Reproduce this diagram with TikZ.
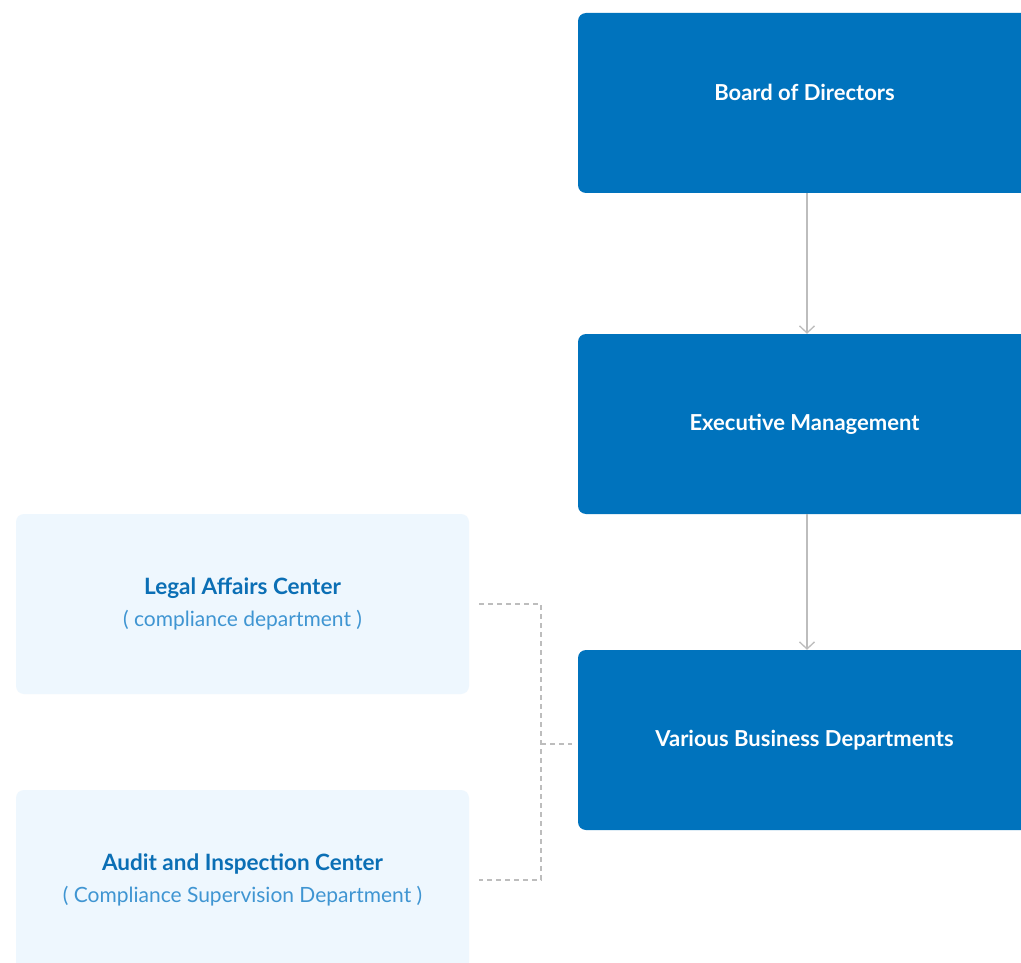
\documentclass[tikz,border=0pt]{standalone}
\usepackage{fontspec}
\setmainfont{Lato}
\usetikzlibrary{arrows.meta}
\definecolor{mainblue}{HTML}{0073BD}
\definecolor{paleblue}{HTML}{EEF7FE}
\definecolor{titleblue}{HTML}{0B6FB5}
\definecolor{subblue}{HTML}{3F95D2}
\definecolor{linegray}{HTML}{BDBDBD}
\begin{document}
\begin{tikzpicture}[x=1pt,y=-1pt]
\tikzstyle{mainbox} = [fill=mainblue, rounded corners=8pt, minimum width=453pt, minimum height=180pt, text=white, font=\fontsize{22}{26}\selectfont\bfseries] % синие блоки
\tikzstyle{sidebox} = [fill=paleblue, rounded corners=8pt, minimum width=453pt, minimum height=180pt, align=center, font=\fontsize{21}{32}\selectfont] % боковые блоки
\tikzstyle{myarrow} = [draw=linegray, line width=1.3pt, -{Straight Barb[length=7pt,width=15pt]}] % сплошная стрелка
\tikzstyle{mydash} = [draw=linegray, line width=1.1pt, dash pattern=on 5pt off 4pt] % пунктир
\clip (0,0) rectangle (1021,963); % рамка рисунка
\fill[white] (0,0) rectangle (1021,963);
\node[mainbox] (board) at (804.5,103) {\raisebox{22pt}{Board of Directors}};
\node[mainbox] (exec) at (804.5,424) {Executive Management};
\node[mainbox] (depts) at (804.5,740) {Various Business Departments};
\node[sidebox] (legal) at (242.5,604) {{\color{titleblue}\fontsize{22.5}{26}\selectfont\bfseries Legal Affairs Center}\\{\color{subblue}( compliance department )}};
\node[sidebox] (audit) at (242.5,880) {{\color{titleblue}\fontsize{22.5}{26}\selectfont\bfseries Audit and Inspection Center}\\{\color{subblue}( Compliance Supervision Department )}};
\coordinate (join) at (541,744); % точка соединения
\draw[myarrow] ([xshift=2.5pt]board.south) -- ([xshift=2.5pt]exec.north);
\draw[myarrow] ([xshift=2.5pt]exec.south) -- ([xshift=2.5pt]depts.north);
\draw[mydash] ([xshift=10pt]legal.east) -| (join) |- ([xshift=10pt]audit.east);
\draw[mydash] (join) -- ([xshift=-6pt]join -| depts.west);
\end{tikzpicture}
\end{document}
